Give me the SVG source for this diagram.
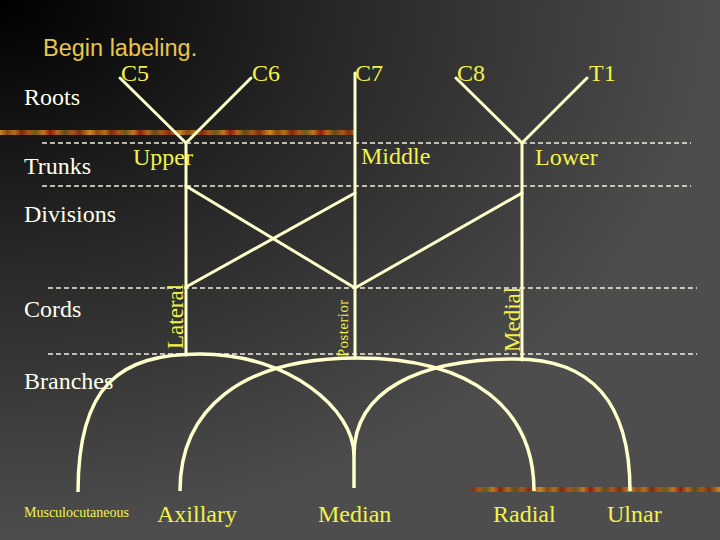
<svg xmlns="http://www.w3.org/2000/svg" width="720" height="540" viewBox="0 0 720 540">
<defs>
<radialGradient id="bg" cx="0" cy="0" r="1" fx="0" fy="0">
<stop offset="0" stop-color="#000000"/>
<stop offset="0.45" stop-color="#262626"/>
<stop offset="1" stop-color="#4d4d4d"/>
</radialGradient>
<linearGradient id="bar" gradientUnits="userSpaceOnUse" x1="0" y1="0" x2="90" y2="0" spreadMethod="repeat">
<stop offset="0" stop-color="#c88a1e"/>
<stop offset="0.08" stop-color="#8a4a12"/>
<stop offset="0.16" stop-color="#b0701c"/>
<stop offset="0.24" stop-color="#7a2a10"/>
<stop offset="0.32" stop-color="#a8561a"/>
<stop offset="0.40" stop-color="#6b5a1c"/>
<stop offset="0.48" stop-color="#c0781e"/>
<stop offset="0.56" stop-color="#8b1e10"/>
<stop offset="0.64" stop-color="#b46a1c"/>
<stop offset="0.72" stop-color="#5e4a18"/>
<stop offset="0.80" stop-color="#a85a18"/>
<stop offset="0.88" stop-color="#7e3010"/>
<stop offset="1" stop-color="#c88a1e"/>
</linearGradient>
<style>
text{font-family:"Liberation Serif","Times New Roman",serif;font-size:24px}
.lbl{fill:#FFFFEE}
.yl{fill:#F4F24A}
.sm{font-size:14px}
.post{font-size:14.5px;letter-spacing:0.6px}
.cord{font-size:23px}
.title{font-family:"Liberation Sans",Arial,sans-serif;font-size:23.5px;fill:#E8C64A}
.nerve{fill:none;stroke:#FFFFCC;stroke-width:3;stroke-linecap:round;stroke-linejoin:round}
.arc{fill:none;stroke:#FFFFCC;stroke-width:3.5}
.dash{stroke:#EEEEE0;stroke-width:1.3;stroke-dasharray:5 3}
</style>
</defs>
<rect x="0" y="0" width="720" height="540" fill="url(#bg)"/>
<g id="decor">
<rect x="0" y="130" width="355" height="5" fill="url(#bar)"/>
<rect x="472" y="487" width="248" height="5" fill="url(#bar)"/>
</g>
<g id="guides">
<line class="dash" x1="42" y1="143" x2="691" y2="143"/>
<line class="dash" x1="42" y1="186" x2="691" y2="186"/>
<line class="dash" x1="48" y1="288" x2="697" y2="288"/>
<line class="dash" x1="48" y1="354" x2="697" y2="354"/>
</g>
<g id="title"><text class="title" x="43" y="56">Begin labeling.</text></g>
<g id="levels">
<text class="lbl" x="24" y="105">Roots</text>
<text class="lbl" x="24" y="174">Trunks</text>
<text class="lbl" x="24" y="222">Divisions</text>
<text class="lbl" x="24" y="317">Cords</text>
<text class="lbl" x="24" y="389">Branches</text>
</g>
<g id="connectors">
<path class="nerve" d="M120,78 L186,143 M251,78 L186,143"/>
<path class="nerve" d="M456,78 L522,143 M587,78 L522,143"/>
<path class="nerve" d="M186,143 V355"/>
<path class="nerve" d="M355,73 V358"/>
<path class="nerve" d="M522,143 V360"/>
<path class="nerve" d="M186,186 L355,288"/>
<path class="nerve" d="M355,193 L186,287"/>
<path class="nerve" d="M522,193 L355,288"/>
<path class="arc" d="M78,492 C78,385 120,354 200,354 C290,354 354,410 354,455 L354,488"/>
<path class="arc" d="M180,491 C180,410 240,358 357,358 C474,358 534,410 534,491"/>
<path class="arc" d="M354,455 C354,390 420,359 515,359 C590,359 630,400 630,491"/>
</g>
<g id="roots">
<g id="c5"><text class="yl" x="121" y="81">C5</text></g>
<g id="c6"><text class="yl" x="252" y="81">C6</text></g>
<g id="c7"><text class="yl" x="355" y="81">C7</text></g>
<g id="c8"><text class="yl" x="457" y="81">C8</text></g>
<g id="t1"><text class="yl" x="589" y="81">T1</text></g>
</g>
<g id="trunks">
<g id="upper"><text class="yl" x="133" y="165">Upper</text></g>
<g id="middle"><text class="yl" x="361" y="164">Middle</text></g>
<g id="lower"><text class="yl" x="535" y="165">Lower</text></g>
</g>
<g id="cords">
<g id="lateral"><text class="yl cord" transform="translate(183,349) rotate(-90)">Lateral</text></g>
<g id="posterior"><text class="yl post" transform="translate(348,357) rotate(-90)">Posterior</text></g>
<g id="medial"><text class="yl cord" transform="translate(520,352) rotate(-90)">Medial</text></g>
</g>
<g id="branches">
<g id="musculocutaneous"><text class="yl sm" x="24" y="517">Musculocutaneous</text></g>
<g id="axillary"><text class="yl" x="157" y="522">Axillary</text></g>
<g id="median"><text class="yl" x="318" y="522">Median</text></g>
<g id="radial"><text class="yl" x="493" y="522">Radial</text></g>
<g id="ulnar"><text class="yl" x="607" y="522">Ulnar</text></g>
</g>
</svg>
